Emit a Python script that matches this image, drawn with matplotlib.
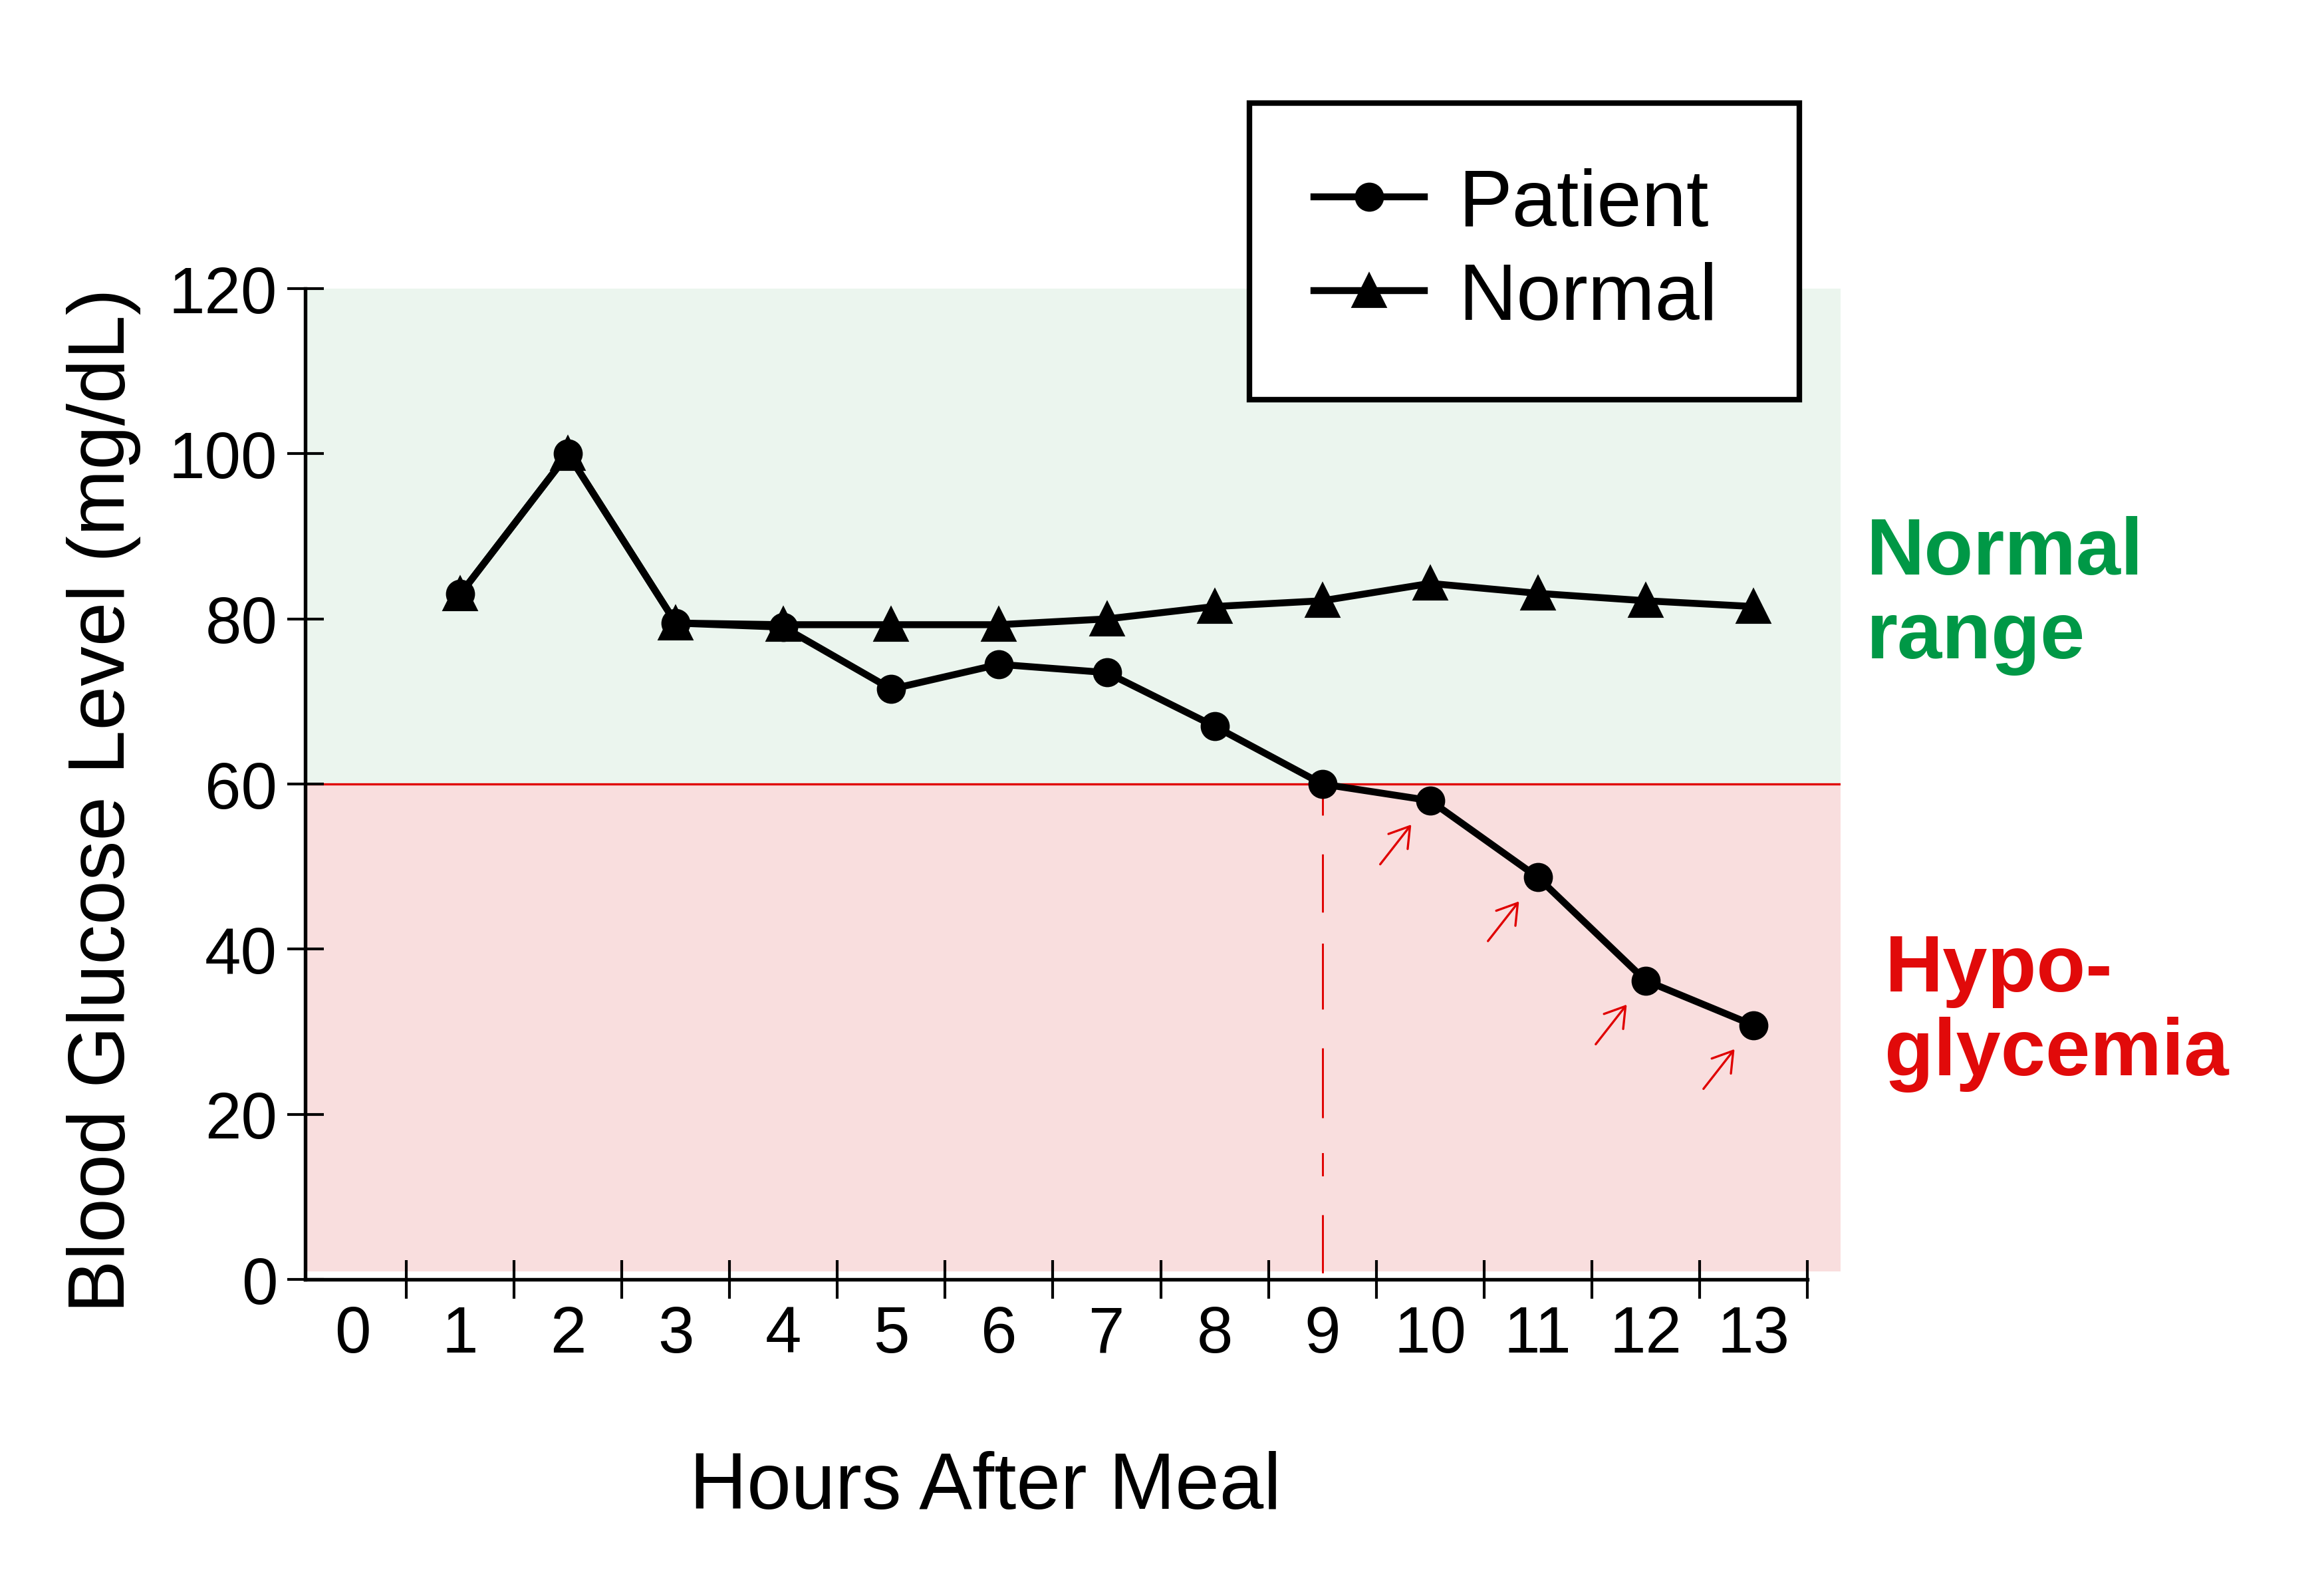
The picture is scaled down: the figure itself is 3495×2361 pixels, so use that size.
import numpy as np
import matplotlib
matplotlib.use('agg')
import matplotlib.pyplot as plt
from matplotlib.ticker import FixedLocator

plt.rcParams['font.family'] = ['Liberation Sans', 'DejaVu Sans']

# data
hours = [1, 2, 3, 4, 5, 6, 7, 8, 9, 10, 11, 12, 13]
patient = [83, 100, 79.5, 79, 71.5, 74.5, 73.5, 67, 60, 58, 48.7, 36.2, 30.8]
normal = [83, 100, 79.5, 79.3, 79.3, 79.3, 80.0, 81.5, 82.2, 84.3, 83.1, 82.2, 81.5]
hour_labels = [str(h) for h in range(0, 14)]
y_ticks = [0, 20, 40, 60, 80, 100, 120]
hypo_limit = 60
onset_hour = 9
flagged = [10, 11, 12, 13]

green_bg = '#EBF5EE'
pink_bg = '#F9DEDE'
green_txt = '#009846'
red_txt = '#E10A0A'

fig = plt.figure(figsize=(11.65, 7.8733), dpi=300)
ax = fig.add_axes([0.1313, 0.185, 0.6607, 0.6308])
ax.set_xlim(-0.44, 13.81)
ax.set_ylim(0, 120)

# shaded ranges
ax.axhspan(hypo_limit, 120, color=green_bg, lw=0, zorder=0)
ax.axhspan(1, hypo_limit, color=pink_bg, lw=0, zorder=0)
ax.axhline(hypo_limit, color='#E00000', lw=0.8, zorder=1)

# dashed onset line
ax.plot([onset_hour, onset_hour], [hypo_limit - 1, -1], color='#E00000', lw=0.7,
        linestyle=(0, (12, 20, 30, 16, 34, 20, 36, 18)), clip_on=False, zorder=1)

ax.plot(hours, patient, '-o', color='black', lw=2.5, ms=9.5, label='Patient', zorder=3)
ax.plot(hours, normal, '-^', color='black', lw=2.5, ms=11.5, label='Normal', zorder=3)

# little hand-drawn style arrows
for h in flagged:
    v = patient[hours.index(h)]
    ax.annotate('', xy=(h, v), xytext=(-18, -23), textcoords='offset points',
                arrowprops=dict(arrowstyle='->,head_length=0.35,head_width=0.22',
                                color='#E00000', lw=0.8, shrinkA=0, shrinkB=11,
                                mutation_scale=20))

# axes styling
for s in ['top', 'right']:
    ax.spines[s].set_visible(False)
ax.spines['left'].set_linewidth(1.3)
ax.spines['bottom'].set_linewidth(1.3)
ax.spines['bottom'].set_bounds(-0.44, 13.5)

ax.set_yticks(y_ticks)
ax.tick_params(axis='y', direction='inout', length=13.2, width=1.0, pad=3.4, labelsize=23.5)
ax.xaxis.set_major_locator(FixedLocator(range(0, 14)))
ax.set_xticklabels(hour_labels)
ax.xaxis.set_minor_locator(FixedLocator(np.arange(0.5, 14, 1.0)))
ax.tick_params(axis='x', which='major', length=0, pad=9, labelsize=23.5)
ax.tick_params(axis='x', which='minor', direction='inout', length=14, width=1.0)

ax.set_ylabel('Blood Glucose Level (mg/dL)', fontsize=28.7, va='center')
ax.yaxis.set_label_coords(-0.131, 0.484)
ax.set_xlabel('Hours After Meal', fontsize=28.7, va='center')
ax.xaxis.set_label_coords(0.443, -0.21)

ax.text(14.05, 75.3, 'Normal\nrange', color=green_txt, fontsize=29, fontweight='bold',
        ha='left', va='baseline', linespacing=1.15, clip_on=False)
ax.text(14.22, 24.8, 'Hypo-\nglycemia', color=red_txt, fontsize=29, fontweight='bold',
        ha='left', va='baseline', linespacing=1.15, clip_on=False)

leg = ax.legend(loc='upper left', bbox_to_anchor=(0.5376, 0.934, 0.2366, 0.0),
                bbox_transform=fig.transFigure, mode='expand', borderaxespad=0,
                fontsize=29, numpoints=1, handlelength=1.38, handletextpad=0.42,
                borderpad=0.8, labelspacing=0.24, fancybox=False, framealpha=1)
leg.get_frame().set_edgecolor('black')
leg.get_frame().set_linewidth(2.0)

fig.savefig('out.png', dpi=300, facecolor='white')
